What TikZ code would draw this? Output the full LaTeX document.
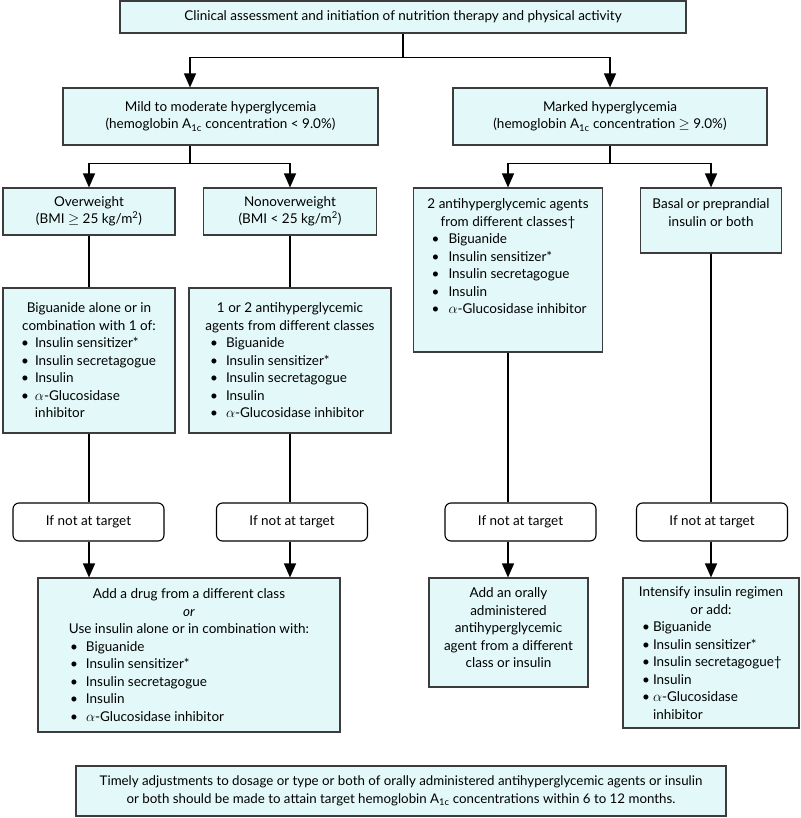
\documentclass[tikz,border=0pt]{standalone}
\usepackage{fontspec}
\setmainfont{Lato}
\usetikzlibrary{arrows.meta,calc,positioning}
\definecolor{cellfill}{HTML}{E3F8F8}
\definecolor{cellline}{HTML}{3C3C3C}

\newlength\bulindent
\newlength\bulgap
\newcommand{\setbul}[2]{\setlength\bulindent{#1}\setlength\bulgap{#2}}
\newcommand{\boxtext}[4][c]{\parbox[c][#3][#1]{#2}{\centering #4}}
\newcommand{\bul}[1]{\makebox[\linewidth][l]{\hspace*{\bulindent}\makebox[\bulgap][l]{\textbullet}#1}}
\newcommand{\bulcont}[1]{\makebox[\linewidth][l]{\hspace*{\bulindent}\hspace*{\bulgap}#1}}
\newcommand{\aic}{A\textsubscript{1c}}

\begin{document}
\begin{tikzpicture}[
  x=1pt,
  y=-1pt,
  drugbox/.style={
    draw=cellline,
    fill=cellfill,
    line width=1.1pt,
    inner xsep=4pt,
    inner ysep=0pt,
    font=\fontsize{13.5}{17.5}\selectfont
  },
  checknode/.style={
    draw=black,
    fill=white,
    rounded corners=6pt,
    line width=1.1pt,
    minimum width=151pt,
    minimum height=38pt,
    font=\fontsize{13.5}{17.5}\selectfont
  },
  flowline/.style={draw=black,line width=1.3pt},
  arrowline/.style={flowline,-{Triangle[length=14pt,width=12pt]}}
]
\useasboundingbox (0,0) rectangle (800,818);

% first split
\node[drugbox] (clinical) at (403,17) {\boxtext{558pt}{32pt}{%
  Clinical assessment and initiation of nutrition therapy and physical activity}};

\node[drugbox] (mild) at (220.5,116.5) {\boxtext{307pt}{57pt}{%
  Mild to moderate hyperglycemia\\
  (hemoglobin \aic\ concentration < 9.0\%)}};

\node[drugbox] (marked) at (610,116.5) {\boxtext{306pt}{57pt}{%
  Marked hyperglycemia\\
  (hemoglobin \aic\ concentration $\geq$ 9.0\%)}};

% weight classes and agents
\node[drugbox] (over) at (89,211.5) {\boxtext{164pt}{47pt}{%
  Overweight\\(BMI $\geq$ 25 kg/m\textsuperscript{2})}};

\node[drugbox] (nonover) at (290,211.5) {\boxtext{165pt}{47pt}{%
  Nonoverweight\\(BMI < 25 kg/m\textsuperscript{2})}};

\node[drugbox] (bigalone) at (89,360.5) {\boxtext{164pt}{145pt}{%
  \setbul{14pt}{14pt}%
  Biguanide alone or in\\
  combination with 1 of:\\
  \bul{Insulin sensitizer*}\\
  \bul{Insulin secretagogue}\\
  \bul{Insulin}\\
  \bul{$\alpha$-Glucosidase}\\
  \bulcont{inhibitor}}};

\node[drugbox] (oneortwo) at (290,360.5) {\boxtext{194pt}{145pt}{%
  \setbul{17pt}{16pt}%
  1 or 2 antihyperglycemic\\
  agents from different classes\\
  \bul{Biguanide}\\
  \bul{Insulin sensitizer*}\\
  \bul{Insulin secretagogue}\\
  \bul{Insulin}\\
  \bul{$\alpha$-Glucosidase inhibitor}}};

\node[drugbox] (twoagents) at (508,270) {\boxtext[t]{181pt}{164pt}{%
  \setbul{14pt}{17pt}%
  \vspace*{11pt}%
  2 antihyperglycemic agents\\
  from different classes\textdagger\\
  \bul{Biguanide}\\
  \bul{Insulin sensitizer*}\\
  \bul{Insulin secretagogue}\\
  \bul{Insulin}\\
  \bul{$\alpha$-Glucosidase inhibitor}}};

\node[drugbox] (basal) at (711,220.5) {\boxtext[t]{133pt}{65pt}{%
  \vspace*{11pt}%
  Basal or preprandial\\insulin or both}};

% checks
\node[checknode] (check1) at (88.5,522) {If not at target};
\node[checknode] (check2) at (292,522) {If not at target};
\node[checknode] (check3) at (520.5,522) {If not at target};
\node[checknode] (check4) at (712,522) {If not at target};

% next steps
\node[drugbox] (adddrug) at (189,655) {\boxtext{294pt}{154pt}{%
  \setbul{28pt}{16pt}%
  Add a drug from a different class\\
  \textit{or}\\
  Use insulin alone or in combination with:\\
  \bul{Biguanide}\\
  \bul{Insulin sensitizer*}\\
  \bul{Insulin secretagogue}\\
  \bul{Insulin}\\
  \bul{$\alpha$-Glucosidase inhibitor}}};

\node[drugbox] (addoral) at (508.5,632.5) {\boxtext[t]{151pt}{109pt}{%
  \vspace*{10pt}%
  Add an orally\\
  administered\\
  antihyperglycemic\\
  agent from a different\\
  class or insulin}};

\node[drugbox] (intensify) at (711,653) {\boxtext{168pt}{150pt}{%
  \setbul{15pt}{11pt}%
  Intensify insulin regimen\\
  or add:\\
  \bul{Biguanide}\\
  \bul{Insulin sensitizer*}\\
  \bul{Insulin secretagogue\textdagger}\\
  \bul{Insulin}\\
  \bul{$\alpha$-Glucosidase}\\
  \bulcont{inhibitor}}};

\node[drugbox,font=\fontsize{13.3}{18}\selectfont] (timing) at (401,791) {\boxtext{642pt}{50pt}{%
  Timely adjustments to dosage or type or both of orally administered antihyperglycemic agents or insulin\\
  or both should be made to attain target hemoglobin \aic\ concentrations within 6 to 12 months.}};

% connectors
\coordinate (topsplit) at ($(clinical.south)+(0,24)$);
\draw[flowline] (clinical.south) -- (topsplit);
\draw[arrowline] (topsplit) -| ($(mild.north)+(-30.5,0)$);
\draw[arrowline] (topsplit) -| (marked.north);

\coordinate (mildsplit) at ($(mild.south)+(-30.5,18)$);
\draw[flowline] ($(mild.south)+(-30.5,0)$) -- (mildsplit);
\draw[arrowline] (mildsplit) -| (over.north);
\draw[arrowline] (mildsplit) -| (nonover.north);

\coordinate (markedsplit) at ($(marked.south)+(0,18)$);
\draw[flowline] (marked.south) -- (markedsplit);
\draw[arrowline] (markedsplit) -| (twoagents.north);
\draw[arrowline] (markedsplit) -| (basal.north);

\draw[flowline] (over.south) -- (bigalone.north);
\draw[flowline] (nonover.south) -- (oneortwo.north);

\draw[flowline] (bigalone.south) -- (bigalone.south |- check1.north);
\draw[flowline] (oneortwo.south) -- (oneortwo.south |- check2.north);
\draw[flowline] (twoagents.south) -- (twoagents.south |- check3.north);
\draw[flowline] (basal.south) -- (basal.south |- check4.north);

\draw[arrowline] (bigalone.south |- check1.south) -- (bigalone.south |- adddrug.north);
\draw[arrowline] (oneortwo.south |- check2.south) -- (oneortwo.south |- adddrug.north);
\draw[arrowline] (twoagents.south |- check3.south) -- (twoagents.south |- addoral.north);
\draw[arrowline] (basal.south |- check4.south) -- (basal.south |- intensify.north);

\end{tikzpicture}
\end{document}
